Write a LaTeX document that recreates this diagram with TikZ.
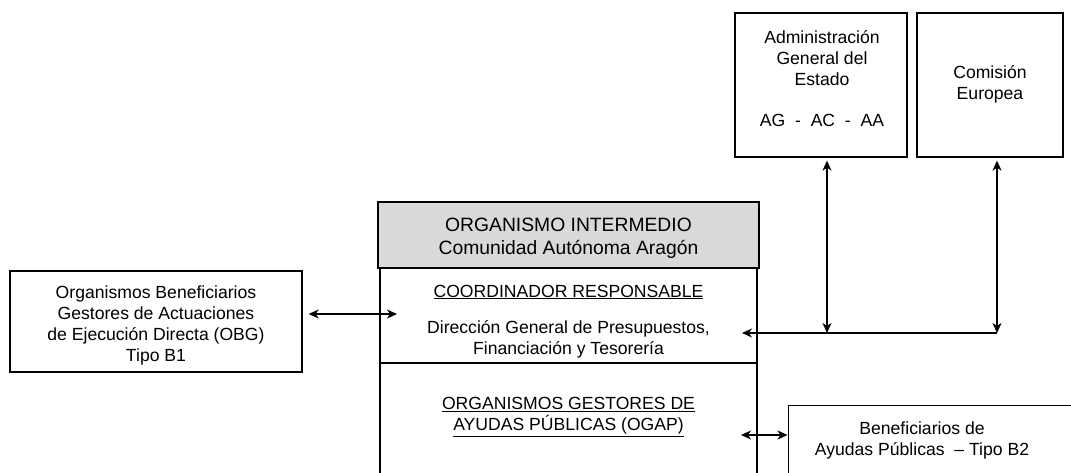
\documentclass[tikz,border=0pt]{standalone}
\usepackage{fontspec}
\setmainfont{Liberation Sans}
\usetikzlibrary{arrows.meta}
\definecolor{hdrgray}{RGB}{217,217,217}
\begin{document}
\begin{tikzpicture}[x=1pt,y=-1pt,
  box/.style={draw, line width=1.3pt, inner sep=0pt},
  txt/.style={align=center, font=\fontsize{17.6}{21}\selectfont, inner sep=0pt},
  hdr/.style={align=center, font=\fontsize{19.3}{23}\selectfont, inner sep=0pt},
  tip/.tip={Stealth[length=10pt,width=9pt,inset=3pt]},
  link/.style={line width=1.3pt, -tip},
  dlink/.style={line width=1.3pt, tip-tip},
  plain/.style={line width=1.3pt}]
\useasboundingbox (0,0) rectangle (1071,472);
\clip (0,0) rectangle (1071,472);

% top boxes
\node[box, minimum width=172pt, minimum height=144pt] (age) at (821,85) {};
\node[txt] (agetxt) at (822,79) {Administración\\General del\\Estado\\[20pt]AG\ \ -\ \ AC\ \ -\ \ AA};
\node[box, minimum width=146pt, minimum height=144pt] (ce) at (990,85) {};
\node[txt] (cetxt) at (990,84) {Comisión\\Europea};

% main box
\node[box, fill=hdrgray, minimum width=381pt, minimum height=66pt] (oi) at (568.5,235) {};
\node[hdr] (oitxt) at (568.5,238.5) {ORGANISMO INTERMEDIO\\Comunidad Autónoma Aragón};
\coordinate (bl) at (380,268);
\coordinate (br) at (757,268);
\coordinate (bl2) at (380,490);
\coordinate (br2) at (757,490);
\coordinate (dl) at (380,363);
\coordinate (dr) at (757,363);
\draw[plain] (bl) -- (bl2);
\draw[plain] (br) -- (br2);
\draw[plain] (dl) -- (dr);
\node[txt] (coord) at (568.5,292) {\underline{COORDINADOR RESPONSABLE}};
\node[txt] (dg) at (568.5,339) {Dirección General de Presupuestos,\\Financiación y Tesorería};
\node[txt] (ogap) at (568.5,417) {\underline{ORGANISMOS GESTORES DE}\\\underline{AYUDAS PÚBLICAS (OGAP)}};

% left box
\node[box, minimum width=292pt, minimum height=101pt] (obg) at (156,321.5) {};
\node[txt] (obgtxt) at (156,325) {Organismos Beneficiarios\\Gestores de Actuaciones\\de Ejecución Directa (OBG)\\Tipo B1};

% bene box
\node[box, minimum width=320pt, minimum height=120pt, anchor=north west] (bene) at (787.5,405) {};
\node[txt] (benetxt) at (922,440) {Beneficiarios de\\Ayudas Públicas\ \ – Tipo B2};

% connectors
\coordinate (obgend) at (397,314);
\draw[dlink] ([xshift=6pt]obg.east |- obgend) -- (obgend);

\coordinate (hl) at (742,333);
\coordinate (j1) at (827,333);
\coordinate (j2) at (997,333);
\draw[link] (j2) -- (hl);
\draw[dlink] ([yshift=-3pt]age.south -| j1) -- (j1);
\draw[dlink] ([yshift=-3pt]ce.south -| j2) -- (j2);

\coordinate (ogapend) at (741,435);
\draw[dlink] (ogapend) -- (bene.west |- ogapend);
\end{tikzpicture}
\end{document}
